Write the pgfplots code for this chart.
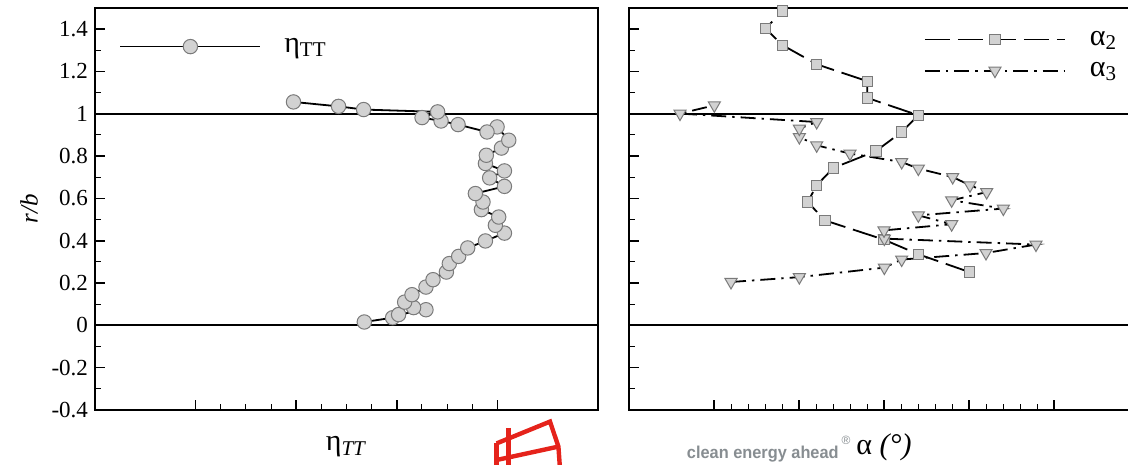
\documentclass[border=0pt]{standalone}
\usepackage{pgfplots}
\pgfplotsset{compat=1.18}
\usepackage{fontspec}
\setmainfont{Liberation Serif}
\newfontfamily\logofont{Liberation Sans}

\definecolor{markfill}{HTML}{D2D2D2}
\definecolor{markedge}{HTML}{7A7A7A}
\definecolor{logored}{HTML}{E5231B}
\definecolor{logogray}{HTML}{878D91}

% radial efficiency (left) and flow angles (right) against r/b
\pgfplotstableread{
x      y
2.677  0.016
2.958  0.036
3.018  0.051
3.290  0.074
3.167  0.084
3.078  0.110
3.151  0.145
3.290  0.181
3.360  0.216
3.493  0.252
3.522  0.292
3.615  0.326
3.705  0.366
3.881  0.399
4.070  0.436
3.980  0.473
4.013  0.512
3.841  0.547
3.857  0.583
3.781  0.623
4.070  0.657
3.923  0.697
4.070  0.730
3.881  0.765
3.890  0.804
4.040  0.838
4.113  0.875
3.997  0.938
3.897  0.914
3.609  0.949
3.440  0.966
3.251  0.982
3.406  1.009
2.670  1.020
2.421  1.035
1.973  1.056
}\etatt

\pgfplotstableread{
x      y
4.004  0.252
3.404  0.336
3.000  0.405
2.306  0.496
2.102  0.583
2.208  0.662
2.404  0.744
2.906  0.824
3.208  0.914
3.404  0.993
2.804  1.075
2.804  1.154
2.208  1.234
1.808  1.324
1.604  1.403
1.808  1.485
}\alphatwo

\pgfplotstableread{
x      y
1.200  0.205
2.004  0.228
3.004  0.273
3.208  0.311
4.200  0.342
4.788  0.382
3.004  0.410
3.000  0.449
3.796  0.478
3.404  0.520
4.404  0.552
3.796  0.591
4.208  0.630
4.012  0.662
3.808  0.701
3.404  0.741
3.208  0.772
2.600  0.812
2.208  0.851
2.004  0.890
2.004  0.930
2.208  0.961
0.600  1.001
1.004  1.040
}\alphathree

\pgfplotsset{
  panel/.style={
    scale only axis, height=201pt,
    ymin=-0.4, ymax=1.5,
    axis line style={line width=1pt},
    tick align=inside,
    xtick pos=left, ytick pos=left,
    major tick length=5pt, minor tick length=2.8pt,
    every major tick/.style={line width=0.8pt, black},
    every minor tick/.style={line width=0.5pt, black},
    ytick={-0.4,-0.2,0,0.2,0.4,0.6,0.8,1,1.2,1.4},
    minor y tick num=1,
    xticklabels={},
    tick label style={font=\fontsize{11.5}{13}\selectfont},
    xlabel style={at={(axis description cs:0.5,0)}, anchor=center, yshift=-18.5pt},
    legend cell align=left,
    legend style={draw=none, fill=none,
      font=\fontsize{15}{16}\selectfont},
  },
  refline/.style={black, line width=1pt, forget plot},
  longlegend/.style={legend image code/.code={
      \draw[mark repeat=2, mark phase=2, ##1] plot coordinates {(0pt,0pt) (35pt,0pt) (70pt,0pt)};}},
}

\begin{document}
\begin{tikzpicture}
\useasboundingbox (0,0) rectangle (564pt,232.5pt);
\clip (0,0) rectangle (564pt,232.5pt);

% left panel: total-to-total efficiency
\begin{axis}[panel, at={(47.5pt,27.5pt)}, anchor=south west,
  width=251.5pt, xmin=0, xmax=5, xtick={1,2,3,4}, minor x tick num=3,
  yticklabels={-0.4,-0.2,0,0.2,0.4,0.6,0.8,1,1.2,1.4},
  ylabel={\fontsize{12.5}{14}\selectfont\textit{r/b}},
  xlabel={\fontsize{15}{16}\selectfont η\textsubscript{\textit{TT}}},
  legend style={at={(axis description cs:0.036,0.904)}, anchor=west,
    /tikz/every odd column/.append style={column sep=9.5pt}},
]
\addplot[refline] coordinates {(0,1) (5,1)};
\addplot[refline] coordinates {(0,0) (5,0)};
\addplot[black, line width=0.9pt, longlegend,
  mark=*, mark size=3.6pt,
  mark options={solid, fill=markfill, draw=markedge, line width=0.5pt}]
  table[x=x, y=y] {\etatt};
\addlegendentry{η\textsubscript{TT}}
\end{axis}

% right panel: absolute flow angles
\begin{axis}[panel, at={(314.5pt,27.5pt)}, anchor=south west,
  width=255pt, xmin=0, xmax=6, xtick={1,2,3,4,5}, minor x tick num=4,
  yticklabels={},
  xlabel={\fontsize{15}{16}\selectfont α \textit{(°)}},
  legend style={at={(axis description cs:0.566,0.883)}, anchor=west,
    row sep=3pt,
    /tikz/every odd column/.append style={column sep=10pt}},
]
\addplot[refline] coordinates {(0,1) (6,1)};
\addplot[refline] coordinates {(0,0) (6,0)};
\addplot[black, line width=0.9pt, dash pattern=on 12.5pt off 4pt, longlegend,
  mark=square*, mark size=2.6pt,
  mark options={solid, fill=markfill, draw=markedge, line width=0.5pt}]
  table[x=x, y=y] {\alphatwo};
\addlegendentry{α\textsubscript{2}}
\addplot[black, line width=0.9pt, dash pattern=on 7.5pt off 3pt on 1.2pt off 3pt, longlegend,
  mark=triangle*, mark size=3.5pt,
  mark options={solid, rotate=180, fill=markfill, draw=markedge, line width=0.5pt}]
  table[x=x, y=y] {\alphathree};
\addlegendentry{α\textsubscript{3}}
\end{axis}

% logo mark and tagline along the lower edge
\begin{scope}[logored, line width=2.2pt, line cap=butt]
  \draw (254.2pt,18.5pt) -- (254.2pt,-2pt);
  \draw (248.3pt,10.8pt) -- (275pt,21.7pt) -- (279.2pt,9.2pt) -- (280pt,-2pt);
  \draw (248.3pt,10.8pt) -- (248.3pt,-2pt);
  \draw (248.3pt,2.5pt) -- (279.2pt,9.2pt);
\end{scope}
\node[anchor=base west, inner sep=0pt, text=logogray, font=\logofont\bfseries\fontsize{8.6}{9}\selectfont, xscale=0.95]
  at (343.3pt,3.3pt) {clean energy ahead};
\node[anchor=center, inner sep=0pt, text=logogray, font=\logofont\fontsize{6}{7}\selectfont]
  at (423pt,12.5pt) {®};
\end{tikzpicture}
\end{document}
